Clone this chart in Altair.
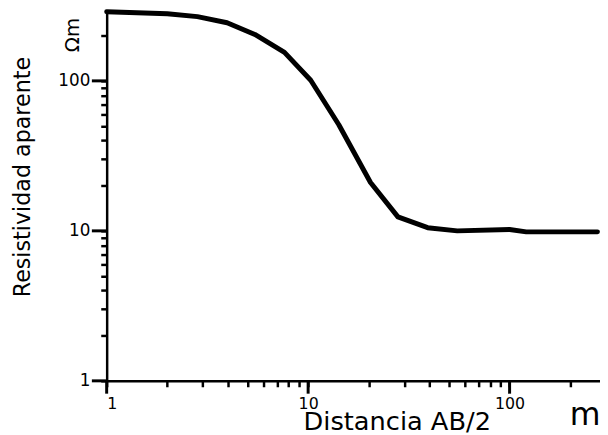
import altair as alt
import pandas as pd

# Data (log-log sounding curve)
ab2 = [1, 2.0, 2.82, 3.96, 5.44, 7.63, 10.3, 14.2, 20.4, 27.9, 39.2, 55, 100, 121, 273]
rho = [289, 280, 268, 244, 204, 155, 101, 51, 21, 12.4, 10.5, 10.0, 10.2, 9.85, 9.85]

x_major = [1, 10, 100]
x_minor = [2, 3, 4, 5, 6, 7, 8, 9, 20, 30, 40, 50, 60, 70, 80, 90, 200]
y_major = [1, 10, 100]
y_minor = [2, 3, 4, 5, 6, 7, 8, 9, 20, 30, 40, 50, 60, 70, 80, 90, 200]
x_domain = [1, 281]
y_domain = [1, 293]

x_title = "Distancia AB/2"
y_title = "Resistividad aparente"
y_unit = ["Ωm"]
x_unit = ["m"]

FONT = "DejaVu Sans"
W, H = 500, 375

df = pd.DataFrame({"ab2": ab2, "rho": rho})


def is_major(vals):
    return " || ".join(f"datum.value == {v}" for v in vals)


xscale = alt.Scale(type="log", domain=x_domain)
yscale = alt.Scale(type="log", domain=y_domain)

xaxis = alt.Axis(
    values=x_major + x_minor,
    labelExpr=f"({is_major(x_major)}) ? datum.value + '' : ''",
    tickSize=6,
    tickWidth=2.5,
    tickColor="black",
    domainColor="black",
    domainWidth=2.5,
    grid=False,
    title=x_title,
    titleX=294,
    titleY=49,
    titleAlign="center",
    titleBaseline="alphabetic",
    titleFont=FONT,
    titleFontSize=26,
    titleFontWeight="normal",
    titleColor="black",
    labelFont=FONT,
    labelFontSize=16,
    labelColor="black",
    labelPadding=9,
    labelBaseline="top",
)

yaxis = alt.Axis(
    values=y_major + y_minor,
    labelExpr=f"({is_major(y_major)}) ? datum.value + '' : ''",
    tickSize=6,
    tickWidth=2.5,
    tickColor="black",
    domainColor="black",
    domainWidth=2.5,
    grid=False,
    title=y_title,
    titleX=-78,
    titleY=168,
    titleAngle=270,
    titleAlign="center",
    titleBaseline="alphabetic",
    titleFont=FONT,
    titleFontSize=22.5,
    titleFontWeight="normal",
    titleColor="black",
    labelFont=FONT,
    labelFontSize=17,
    labelColor="black",
    labelPadding=11,
    labelBaseline="middle",
)

line = alt.Chart(df).mark_line(
    color="black", strokeWidth=5, strokeJoin="round", strokeCap="round"
).encode(
    x=alt.X("ab2:Q", scale=xscale, axis=xaxis),
    y=alt.Y("rho:Q", scale=yscale, axis=yaxis),
)

# longer ticks at the decades
x_major_ticks = alt.Chart(pd.DataFrame({"ab2": x_major})).mark_rule(
    color="black", strokeWidth=3
).encode(
    x=alt.X("ab2:Q", scale=xscale, axis=xaxis),
    y=alt.value(H),
    y2=alt.value(H + 13),
)

y_major_ticks = alt.Chart(pd.DataFrame({"rho": y_major})).mark_rule(
    color="black", strokeWidth=3
).encode(
    y=alt.Y("rho:Q", scale=yscale, axis=yaxis),
    x=alt.value(-15),
    x2=alt.value(0),
)

unit_y = alt.Chart(pd.DataFrame({"t": y_unit})).mark_text(
    angle=270, font=FONT, fontSize=20, color="black", align="center", baseline="middle"
).encode(text="t:N", x=alt.value(-34.5), y=alt.value(24.5))

unit_x = alt.Chart(pd.DataFrame({"t": x_unit})).mark_text(
    font=FONT, fontSize=32, color="black", align="center", baseline="alphabetic"
).encode(text="t:N", x=alt.value(485), y=alt.value(420))

chart = alt.layer(line, x_major_ticks, y_major_ticks, unit_y, unit_x).properties(
    width=W,
    height=H,
    padding={"left": 100, "top": 0, "right": 0, "bottom": 52},
    autosize=alt.AutoSizeParams(type="none"),
).configure_view(stroke=None)

chart.save("out.html", embed_options={"renderer": "svg", "actions": False})
